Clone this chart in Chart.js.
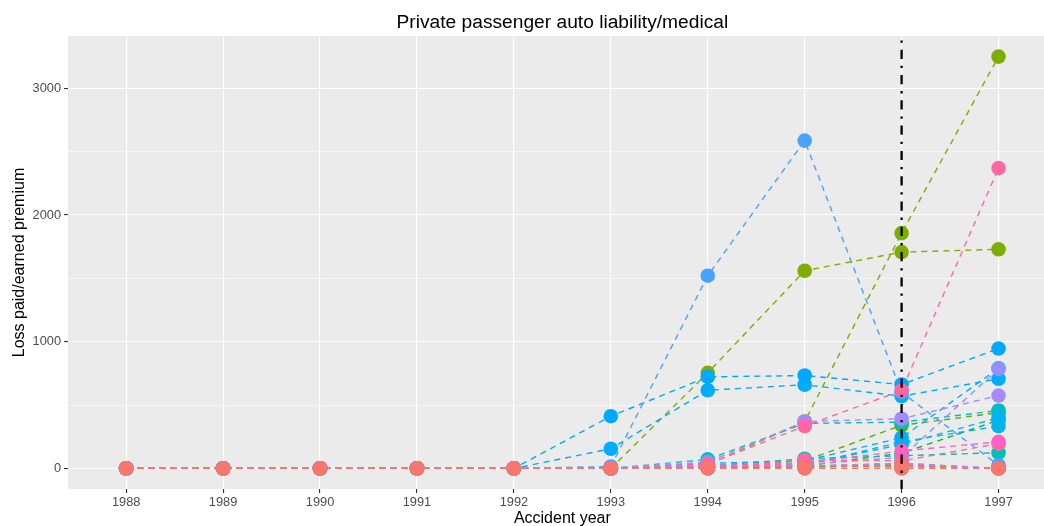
<!DOCTYPE html>
<html>
<head>
<meta charset="utf-8">
<script src="https://cdn.jsdelivr.net/npm/chart.js@4"></script>
<style>
  html, body { margin: 0; padding: 0; background: #ffffff; overflow: hidden; }
  #wrap { position: relative; width: 1064px; height: 526px; }
</style>
</head>
<body>
<div id="wrap"><canvas id="chart" width="1064" height="526"></canvas></div>
<script>
// Accident years on the x axis
const years = [1988, 1989, 1990, 1991, 1992, 1993, 1994, 1995, 1996, 1997];
const yMajorTicks = [0, 1000, 2000, 3000];
const yMinorTicks = [500, 1500, 2500];
const markerYear = 1996;

// Loss paid / earned premium per company, one array per company (1988..1997)
const coRed0    = [0, 0, 0, 0, 0, 0, 0, 0, 0, 0];
const coRed1    = [0, 0, 0, 0, 0, 0, 8, 20, 20, 0];
const coPink1   = [0, 0, 0, 0, 0, 0, 35, 334, 615, 2370];
const coPink2   = [0, 0, 0, 0, 0, 0, 12, 45, 137, 210];
const coPink3   = [0, 0, 0, 0, 0, 0, 6, 65, 60, 195];
const coPurple1 = [0, 0, 0, 0, 0, 0, 50, 370, 392, 575];
const coPurple2 = [0, 0, 0, 0, 0, 0, 28, 30, 87, 785];
const coPurple3 = [0, 0, 0, 0, 0, 0, 15, 20, 40, 0];
const coBlue1   = [0, 0, 0, 0, 0, 15, 1521, 2587, 600, 25];
const coBlue2   = [0, 0, 0, 0, 0, 412, 722, 733, 662, 946];
const coBlue3   = [0, 0, 0, 0, 0, 155, 617, 660, 570, 707];
const coBlue4   = [0, 0, 0, 0, 0, 0, 40, 60, 242, 790];
const coBlue5   = [0, 0, 0, 0, 0, 0, 15, 30, 189, 400];
const coBlue6   = [0, 0, 0, 0, 0, 0, 10, 25, 210, 334];
const coTeal1   = [0, 0, 0, 0, 0, 0, 71, 355, 365, 457];
const coTeal2   = [0, 0, 0, 0, 0, 0, 20, 76, 100, 124];
const coTeal3   = [0, 0, 0, 0, 0, 0, 30, 15, 40, 0];
const coGreen1  = [0, 0, 0, 0, 0, 0, 5, 20, 120, 380];
const coGreen2  = [0, 0, 0, 0, 0, 0, 10, 60, 340, 440];
const coGreen3  = [0, 0, 0, 0, 0, 0, 30, 370, 1857, 3250];
const coGreen4  = [0, 0, 0, 0, 0, 0, 754, 1560, 1707, 1729];
const coOlive   = [0, 0, 0, 0, 0, 0, 3, 12, 30, 0];
const coGold    = [0, 0, 0, 0, 0, 0, 0, 10, 25, 0];
const coOrange  = [0, 0, 0, 0, 0, 0, 4, 18, 15, 0];
const coSalmon  = [0, 0, 0, 0, 0, 0, 0, 0, 0, 0];

// First entry is painted on top
const companies = [
  { values: coRed0,    color: '#F8766D' },
  { values: coRed1,    color: '#FA7379' },
  { values: coPink1,   color: '#FF67A4' },
  { values: coPink2,   color: '#FF61C3' },
  { values: coPink3,   color: '#FF6C91' },
  { values: coPurple1, color: '#A58AFF' },
  { values: coPurple2, color: '#9590FF' },
  { values: coPurple3, color: '#B983FF' },
  { values: coBlue1,   color: '#4AA2FF' },
  { values: coBlue2,   color: '#00A9FF' },
  { values: coBlue3,   color: '#00ADFA' },
  { values: coBlue4,   color: '#00B0F6' },
  { values: coBlue5,   color: '#00B4EF' },
  { values: coBlue6,   color: '#00B6EB' },
  { values: coTeal1,   color: '#00BFC4' },
  { values: coTeal2,   color: '#00C0B8' },
  { values: coTeal3,   color: '#00C1A7' },
  { values: coGreen1,  color: '#00BA42' },
  { values: coGreen2,  color: '#53B400' },
  { values: coGreen3,  color: '#7CAE00' },
  { values: coGreen4,  color: '#7FAD00' },
  { values: coOlive,   color: '#A3A500' },
  { values: coGold,    color: '#C49A00' },
  { values: coOrange,  color: '#E38900' },
  { values: coSalmon,  color: '#F8766D' }
];

const toPoints = vals => years.map((yr, i) => ({ x: yr, y: vals[i] }));

// Dashed connecting lines go underneath every marker
const lineSets = companies.map(c => ({
  data: toPoints(c.values),
  showLine: true,
  borderColor: c.color,
  borderWidth: 1.4,
  borderDash: [6, 5],
  pointRadius: 0,
  pointHoverRadius: 0,
  fill: false,
  tension: 0,
  order: 2
}));
const pointSets = companies.map(c => ({
  data: toPoints(c.values),
  showLine: false,
  pointRadius: 7.3,
  pointHoverRadius: 7.3,
  pointBackgroundColor: c.color,
  pointBorderWidth: 0,
  borderColor: c.color,
  order: 1
}));

const FONT = "'Liberation Sans', Arial, Helvetica, sans-serif";

const panelPlugin = {
  id: 'panel',
  beforeDraw(chart) {
    const { ctx, chartArea: a } = chart;
    ctx.save();
    ctx.fillStyle = '#EBEBEB';
    ctx.fillRect(a.left, a.top, a.right - a.left, a.bottom - a.top);
    ctx.restore();
  },
  afterDatasetsDraw(chart) {
    const { ctx, chartArea: a, scales } = chart;
    const x = scales.x.getPixelForValue(markerYear);
    ctx.save();
    ctx.strokeStyle = '#000000';
    ctx.lineWidth = 2.3;
    ctx.setLineDash([9.2, 6.9, 2.3, 6.9]);
    ctx.beginPath();
    ctx.moveTo(x, a.bottom);
    ctx.lineTo(x, a.top);
    ctx.stroke();
    ctx.restore();
  },
  afterDraw(chart) {
    const { ctx, chartArea: a } = chart;
    ctx.save();
    ctx.fillStyle = '#000000';
    ctx.font = '19.2px ' + FONT;
    ctx.textAlign = 'center';
    ctx.textBaseline = 'alphabetic';
    ctx.fillText('Private passenger auto liability/medical', (a.left + a.right) / 2, 27.5);
    ctx.restore();
  }
};

new Chart(document.getElementById('chart'), {
  type: 'scatter',
  data: { datasets: [...lineSets, ...pointSets] },
  options: {
    responsive: false,
    devicePixelRatio: 1,
    animation: false,
    events: [],
    layout: { padding: { left: 0, top: 36, right: 1, bottom: 0 } },
    plugins: { legend: { display: false }, tooltip: { enabled: false }, title: { display: false } },
    scales: {
      x: {
        type: 'linear',
        min: years[0] - 0.6,
        max: years[years.length - 1] + 0.6,
        afterBuildTicks: s => { s.ticks = years.map(v => ({ value: v })); },
        afterFit: s => { s.height = 37; s.paddingLeft = 0; s.paddingRight = 0; },
        ticks: {
          color: '#4D4D4D',
          font: { family: FONT, size: 12.8 },
          padding: 2,
          maxRotation: 0,
          autoSkip: false,
          callback: v => String(v)
        },
        grid: { color: '#FFFFFF', lineWidth: 1.1, tickLength: 4, tickColor: '#333333', tickWidth: 1.1 },
        border: { display: false },
        title: {
          display: true,
          text: 'Accident year',
          color: '#000000',
          font: { family: FONT, size: 16 },
          padding: { top: 0, bottom: -2 }
        }
      },
      y: {
        type: 'linear',
        min: -162.5,
        max: 3412.5,
        afterBuildTicks: s => {
          s.ticks = [...yMajorTicks, ...yMinorTicks].sort((p, q) => p - q).map(v => ({ value: v }));
        },
        afterFit: s => { s.width = 68; s.paddingTop = 0; s.paddingBottom = 0; },
        ticks: {
          color: '#4D4D4D',
          font: { family: FONT, size: 12.8 },
          padding: 3,
          autoSkip: false,
          callback: v => (yMajorTicks.includes(v) ? String(v) : '')
        },
        grid: {
          color: '#FFFFFF',
          lineWidth: c => (c.tick && yMajorTicks.includes(c.tick.value) ? 1.1 : 0.55),
          tickLength: 4,
          tickColor: c => (c.tick && yMajorTicks.includes(c.tick.value) ? '#333333' : 'rgba(0,0,0,0)'),
          tickWidth: 1.1
        },
        border: { display: false },
        title: {
          display: true,
          text: 'Loss paid/earned premium',
          color: '#000000',
          font: { family: FONT, size: 16 },
          padding: { top: 10, bottom: 0 }
        }
      }
    }
  },
  plugins: [panelPlugin]
});
</script>
</body>
</html>
